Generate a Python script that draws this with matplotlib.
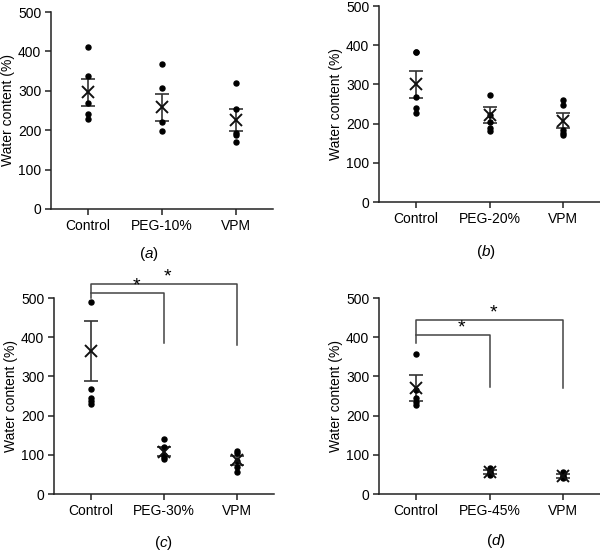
import matplotlib
matplotlib.use("Agg")
import matplotlib.pyplot as plt

plt.rcParams['font.family'] = ['Liberation Sans', 'DejaVu Sans']
plt.rcParams['mathtext.fontset'] = 'custom'
plt.rcParams['mathtext.it'] = 'Liberation Sans:italic'
plt.rcParams['mathtext.rm'] = 'Liberation Sans'

# individual points, one list per group
ctrl_a = [410, 338, 268, 241, 229]
peg10 = [367, 306, 222, 197]
vpm_a = [319, 255, 194, 187, 171]

ctrl_b = [383, 383, 267, 239, 228]
peg20 = [273, 222, 204, 188, 180]
vpm_b = [260, 248, 184, 175, 170]

ctrl_c = [491, 268, 245, 238, 229]
peg30 = [141, 121, 100, 95, 90]
vpm_c = [110, 104, 85, 70, 57]

ctrl_d = [356, 265, 245, 235, 228]
peg45 = [66, 61, 57, 53, 49]
vpm_d = [56, 51, 47, 43, 40]

# mean and SEM as drawn (X marker + error bar)
means_a = [296, 258, 226]
sem_a = [34, 35, 29]
means_b = [300, 222, 207]
sem_b = [35, 21, 19]
means_c = [365, 108, 86]
sem_c = [76, 12, 11]
means_d = [270, 57, 47]
sem_d = [33, 5, 5]

labels_a = ['Control', 'PEG-10%', 'VPM']
labels_b = ['Control', 'PEG-20%', 'VPM']
labels_c = ['Control', 'PEG-30%', 'VPM']
labels_d = ['Control', 'PEG-45%', 'VPM']

# significance brackets: (bottom bracket y, top bracket y, control leg end, PEG leg end, VPM leg end)
brk_c = (514, 535, 499, 384, 380)
brk_d = (405, 444, 386, 273, 270)

fig = plt.figure(figsize=(6.0, 5.53), dpi=100)
W, H = 600, 553


def px_axes(left, right, top, bottom):
    return fig.add_axes([left / W, 1 - bottom / H, (right - left) / W, (bottom - top) / H])


def panel(ax, groups, means, sems, labels, tag, tag_xy):
    for i, g in enumerate(groups):
        ax.plot([i] * len(g), g, 'o', color='black', ms=3.6, clip_on=False, zorder=3)
    xs = range(len(means))
    ax.errorbar(xs, means, yerr=sems, fmt='none', ecolor='#333333', elinewidth=1.2,
                capsize=5, capthick=1.2, zorder=2)
    ax.plot(xs, means, 'x', color='#111111', ms=9, mew=1.4, zorder=4, linestyle='none')
    ax.set_xlim(-0.5, 2.5)
    ax.set_ylim(0, 500)
    ax.set_yticks([0, 100, 200, 300, 400, 500])
    ax.set_xticks(list(xs))
    ax.set_xticklabels(labels)
    for s in ['top', 'right']:
        ax.spines[s].set_visible(False)
    for s in ['left', 'bottom']:
        ax.spines[s].set_color('#222222')
        ax.spines[s].set_linewidth(1.1)
    ax.tick_params(axis='both', labelsize=10, length=4, width=1.1, color='#222222', pad=3)
    ax.set_ylabel('Water content (%)', fontsize=10, labelpad=2)
    fig.text(tag_xy[0] / W, 1 - tag_xy[1] / H, '($\\mathit{' + tag + '}$)',
             ha='center', va='center', fontsize=11)


def brackets(ax, brk):
    lo, hi, c0, p1, p2 = brk
    kw = dict(color='#444444', lw=1.1, clip_on=False)
    ax.plot([0, 0, 2, 2], [c0, hi, hi, p2], **kw)
    ax.plot([0, 1, 1], [lo, lo, p1], **kw)
    ax.text(0.62, lo - 4, '*', ha='center', va='bottom', fontsize=14, clip_on=False)
    ax.text(1.05, hi - 4, '*', ha='center', va='bottom', fontsize=14, clip_on=False)


ax1 = px_axes(51, 273, 12, 209)
panel(ax1, [ctrl_a, peg10, vpm_a], means_a, sem_a, labels_a, 'a', (149, 254))

ax2 = px_axes(379, 600, 6, 202)
panel(ax2, [ctrl_b, peg20, vpm_b], means_b, sem_b, labels_b, 'b', (486, 252))

ax3 = px_axes(54, 274, 298, 494)
panel(ax3, [ctrl_c, peg30, vpm_c], means_c, sem_c, labels_c, 'c', (163, 543))
brackets(ax3, brk_c)

ax4 = px_axes(379, 600, 298, 494)
panel(ax4, [ctrl_d, peg45, vpm_d], means_d, sem_d, labels_d, 'd', (496, 541))
brackets(ax4, brk_d)

fig.savefig('out.png', dpi=100)
